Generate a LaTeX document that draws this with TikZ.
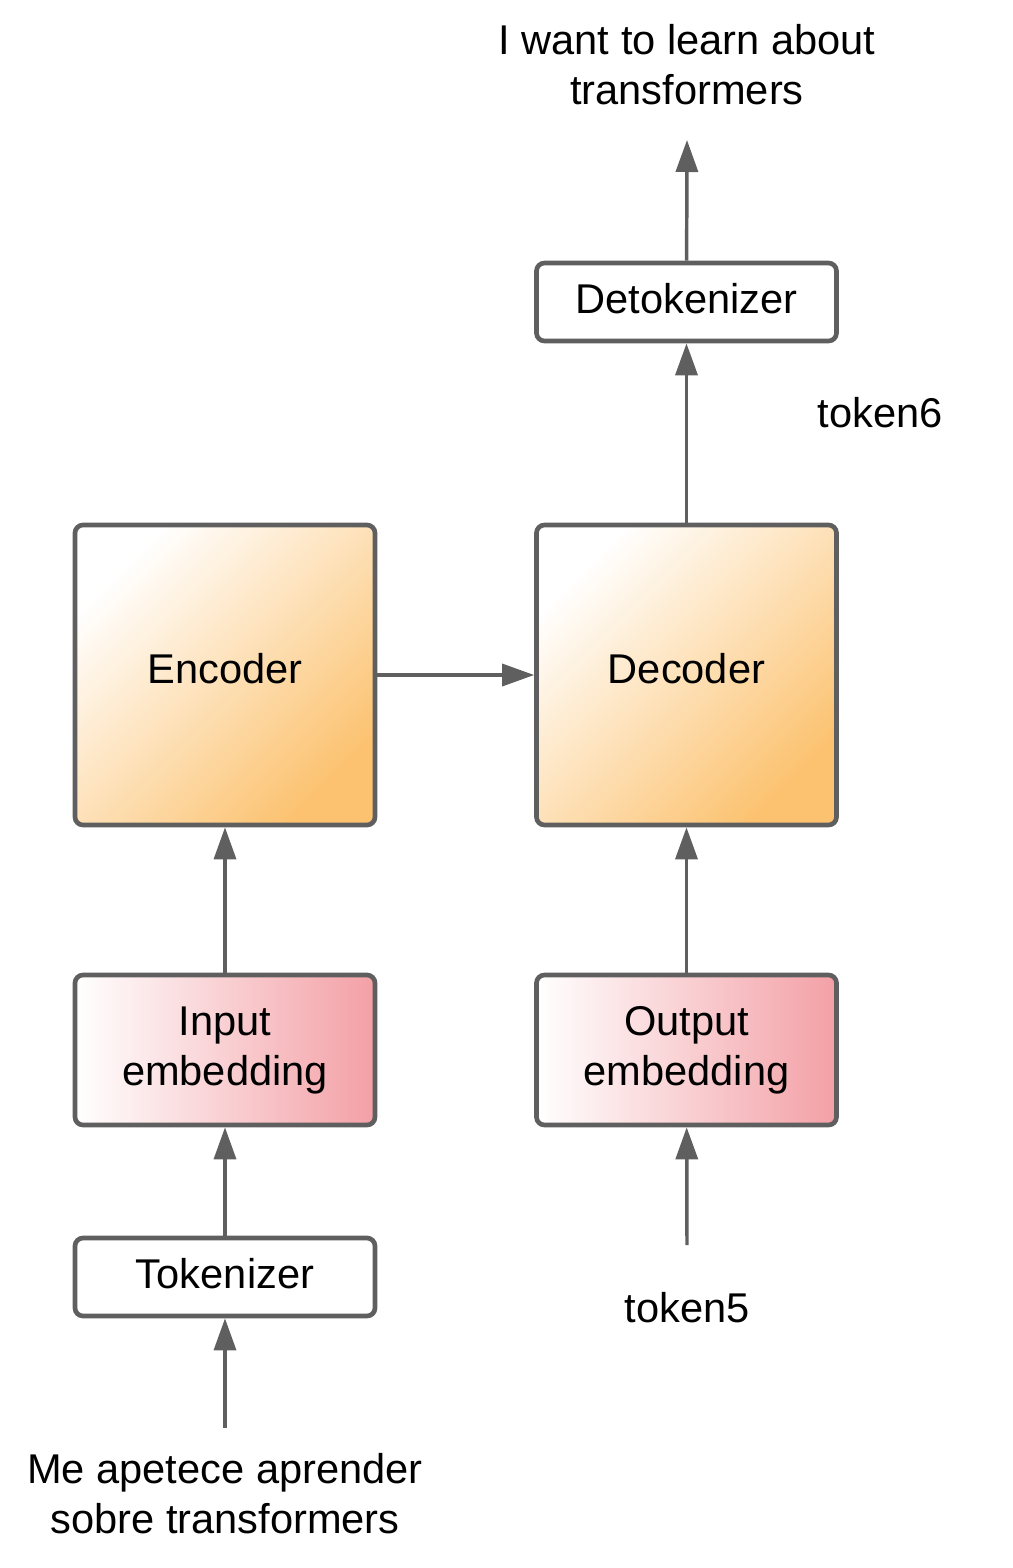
\documentclass[tikz,border=0pt]{standalone}
\usepackage{fontspec}
\setmainfont{Liberation Sans}
\usetikzlibrary{arrows.meta}
\definecolor{edgegray}{HTML}{5F5F5F}
\definecolor{warm}{HTML}{FCC270}
\definecolor{rose}{HTML}{F3A0A6}
\tikzset{>={Triangle[length=24pt,width=16.5pt]},
  every node/.style={font=\fontsize{31.2}{37.5}\selectfont,align=center},
  flow/.style={->,draw=edgegray,line width=2.6pt},
  boxbase/.style={draw=edgegray,line width=3.5pt,rounded corners=6pt,minimum width=225pt},
  plainbox/.style={boxbase,minimum height=58.5pt,fill=white,text depth=5pt},
  coder/.style={boxbase,minimum height=225pt,top color=white,bottom color=warm,shading angle=45,text depth=10.5pt},
  embed/.style={boxbase,minimum height=112.5pt,left color=white,right color=rose}}
\begin{document}
\begin{tikzpicture}[x=.75pt,y=-.75pt]
\useasboundingbox (0,0) rectangle (1013,1568);
% blocks
\node[coder] (enc) at (225,675) {Encoder};
\node[coder] (dec) at (686.5,675) {Decoder};
\node[embed] (inemb) at (225,1050) {Input\\embedding};
\node[embed] (outemb) at (686.5,1050) {Output\\embedding};
\node[plainbox] (tok) at (225,1277) {Tokenizer};
\node[plainbox] (detok) at (686.5,302) {Detokenizer};
% texts
\node (src) at (225,1494) {Me apetece aprender\\sobre transformers};
\node (tgt) at (687,65) {I want to learn about\\transformers};
\node (tokfive) at (687,1308) {token5};
\node (toksix) at (880,413) {token6};
\coordinate (srcend) at (225,1428);
\coordinate (fiveend) at (687,1245);
\coordinate (tgtend) at (687,140);
% connectors
\draw[flow] (srcend) -- (tok);
\draw[flow] (tok) -- (inemb);
\draw[flow] (inemb) -- (enc);
\draw[flow] (enc) -- (dec);
\draw[flow] (fiveend) -- (outemb);
\draw[flow] (outemb) -- (dec);
\draw[flow] (dec) -- (detok);
\draw[flow] (detok) -- (tgtend);
\end{tikzpicture}
\end{document}
